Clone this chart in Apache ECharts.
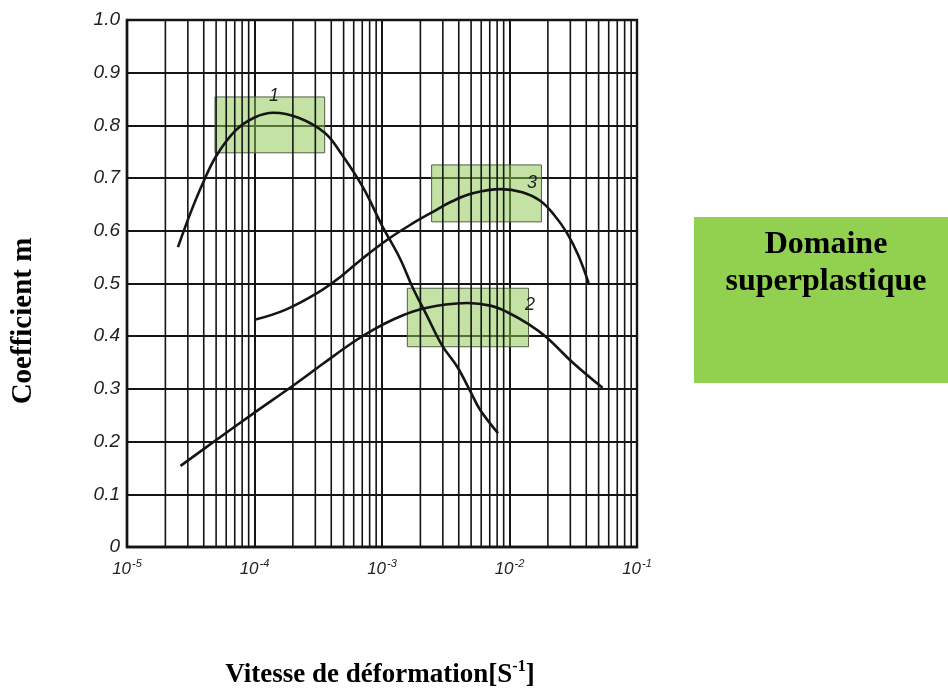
<!DOCTYPE html>
<html>
<head>
<meta charset="utf-8">
<script src="https://cdn.jsdelivr.net/npm/echarts@6/dist/echarts.min.js"></script>
<style>
  html, body { margin: 0; padding: 0; background: #fff; }
  #chart { width: 948px; height: 697px; }
</style>
</head>
<body>
<div id="chart"></div>
<script>
// Strain-rate decades on the log axis and their exponent labels
const xDecades = [1e-5, 1e-4, 1e-3, 1e-2, 1e-1];
const xExponents = ['-5', '-4', '-3', '-2', '-1'];
// Minor grid multipliers inside each decade
const minorMultipliers = [2, 3, 4, 5, 6, 7, 8, 9];

// Curve 1
const c1Rate = [2.51e-5, 3.16e-5, 3.98e-5, 5.01e-5, 7.08e-5, 1.0e-4, 1.41e-4, 2.24e-4, 3.55e-4,
                4.68e-4, 7.08e-4, 1.0e-3, 1.38e-3, 1.75e-3, 2.24e-3, 2.95e-3, 3.89e-3, 5.01e-3,
                5.89e-3, 8.13e-3];
const c1M    = [0.569, 0.635, 0.693, 0.742, 0.790, 0.815, 0.824, 0.814, 0.786,
                0.750, 0.683, 0.610, 0.548, 0.491, 0.440, 0.383, 0.342, 0.292,
                0.260, 0.216];

// Curve 2
const c2Rate = [2.63e-5, 5.01e-5, 1.0e-4, 2.0e-4, 3.55e-4, 5.89e-4, 8.51e-4, 1.26e-3, 1.86e-3,
                3.16e-3, 4.68e-3, 7.08e-3, 9.55e-3, 1.41e-2, 1.95e-2, 3.16e-2, 5.37e-2];
const c2M    = [0.154, 0.203, 0.255, 0.306, 0.350, 0.388, 0.412, 0.433, 0.449,
                0.460, 0.463, 0.458, 0.446, 0.423, 0.398, 0.349, 0.302];

// Curve 3
const c3Rate = [1.0e-4, 1.78e-4, 3.16e-4, 4.68e-4, 7.08e-4, 1.10e-3, 1.66e-3, 2.51e-3, 3.55e-3,
                5.13e-3, 8.51e-3, 1.26e-2, 1.74e-2, 2.24e-2, 2.82e-2, 3.47e-2, 4.17e-2];
const c3M    = [0.431, 0.451, 0.483, 0.512, 0.548, 0.583, 0.611, 0.636, 0.656,
                0.671, 0.679, 0.673, 0.657, 0.630, 0.596, 0.553, 0.501];

// Highlighted superplastic windows: [rateFrom, rateTo, mTop, mBottom]
const box1 = [4.9e-5, 3.55e-4, 0.854, 0.748];
const box3 = [2.45e-3, 1.78e-2, 0.725, 0.617];
const box2 = [1.58e-3, 1.41e-2, 0.491, 0.380];

// Curve number tags: [rate, m, text]
const tag1 = [1.42e-4, 0.856, '1'];
const tag3 = [1.50e-2, 0.690, '3'];
const tag2 = [1.45e-2, 0.459, '2'];

const toPairs = (xs, ys) => xs.map((x, i) => [x, ys[i]]);

const ink = '#151515';

// Vertical minor grid lines at 2..9 x each decade, drawn as two-point line series
const minorGridSeries = [];
xDecades.slice(0, -1).forEach(d => minorMultipliers.forEach(k => {
  minorGridSeries.push({
    type: 'line', silent: true, symbol: 'none', z: 1,
    lineStyle: { color: ink, width: 1.6 },
    data: [[d * k, 0], [d * k, 1]]
  });
}));

function boxArea(b) {
  return {
    silent: true,
    itemStyle: { color: 'rgba(140,200,80,0.52)', borderColor: '#4f5f45', borderWidth: 1 },
    data: [[{ xAxis: b[0], yAxis: b[2] }, { xAxis: b[1], yAxis: b[3] }]]
  };
}
function tagPoint(t) {
  return {
    symbol: 'circle', symbolSize: 0, silent: true,
    label: {
      show: true, position: 'inside', formatter: t[2],
      fontFamily: 'Liberation Sans', fontStyle: 'italic', fontSize: 18, color: '#222'
    },
    data: [{ coord: [t[0], t[1]] }]
  };
}
function curve(name, xs, ys, b, t) {
  return {
    name, type: 'line', data: toPairs(xs, ys), smooth: 0.4, symbol: 'none',
    lineStyle: { color: ink, width: 2.6 }, z: 5,
    markArea: boxArea(b), markPoint: tagPoint(t)
  };
}

const chart = echarts.init(document.getElementById('chart'), null, { renderer: 'canvas' });
chart.setOption({
  animation: false,
  backgroundColor: '#fff',
  grid: { left: 127, right: 311, top: 20, bottom: 150, show: true, borderColor: ink, borderWidth: 2.4 },
  xAxis: {
    type: 'log', logBase: 10, min: 1e-5, max: 1e-1,
    axisLine: { show: true, lineStyle: { color: ink, width: 2.4 } },
    axisTick: { show: false },
    splitLine: { show: true, lineStyle: { color: ink, width: 2 } },
    axisLabel: {
      margin: 11, color: '#222',
      formatter: (v) => {
        const i = xDecades.findIndex(d => Math.abs(Math.log10(d) - Math.log10(v)) < 1e-6);
        return i < 0 ? '' : '{b|10}{s|' + xExponents[i] + '}';
      },
      rich: {
        b: { fontFamily: 'Liberation Sans', fontStyle: 'italic', fontSize: 17, color: '#222', lineHeight: 20, verticalAlign: 'bottom' },
        s: { fontFamily: 'Liberation Sans', fontStyle: 'italic', fontSize: 11, color: '#222', lineHeight: 20, verticalAlign: 'top', padding: [0, 0, 8, 1] }
      }
    }
  },
  yAxis: {
    type: 'value', min: 0, max: 1, interval: 0.1,
    axisLine: { show: true, lineStyle: { color: ink, width: 2.4 } },
    axisTick: { show: false },
    splitLine: { show: true, lineStyle: { color: ink, width: 2 } },
    axisLabel: {
      margin: 7, color: '#222', fontFamily: 'Liberation Sans', fontStyle: 'italic', fontSize: 19,
      formatter: (v) => (v === 0 ? '0' : v.toFixed(1))
    }
  },
  series: minorGridSeries.concat([
    curve('1', c1Rate, c1M, box1, tag1),
    curve('3', c3Rate, c3M, box3, tag3),
    curve('2', c2Rate, c2M, box2, tag2)
  ]),
  graphic: [
    {
      type: 'rect', left: 694, top: 217, silent: true,
      shape: { width: 254, height: 166 }, style: { fill: '#92d050' }
    },
    {
      type: 'text', x: 826, y: 226, silent: true,
      style: {
        text: 'Domaine\nsuperplastique', fill: '#000', align: 'center', verticalAlign: 'top',
        font: 'bold 32px "Liberation Serif"', lineHeight: 37
      }
    },
    {
      type: 'text', x: 24, y: 321, rotation: Math.PI / 2, silent: true,
      style: {
        text: 'Coefficient m', fill: '#000', align: 'center', verticalAlign: 'middle',
        font: 'bold 29px "Liberation Serif"'
      }
    },
    {
      type: 'text', x: 380, y: 674, silent: true,
      style: {
        text: '{t|Vitesse de déformation[S}{s|-1}{t|]}', align: 'center', verticalAlign: 'middle',
        rich: {
          t: { font: 'bold 27px "Liberation Serif"', fill: '#000', lineHeight: 30, verticalAlign: 'bottom' },
          s: { font: 'bold 16px "Liberation Serif"', fill: '#000', lineHeight: 30, verticalAlign: 'top', padding: [0, 0, 10, 0] }
        }
      }
    }
  ]
});
</script>
</body>
</html>
